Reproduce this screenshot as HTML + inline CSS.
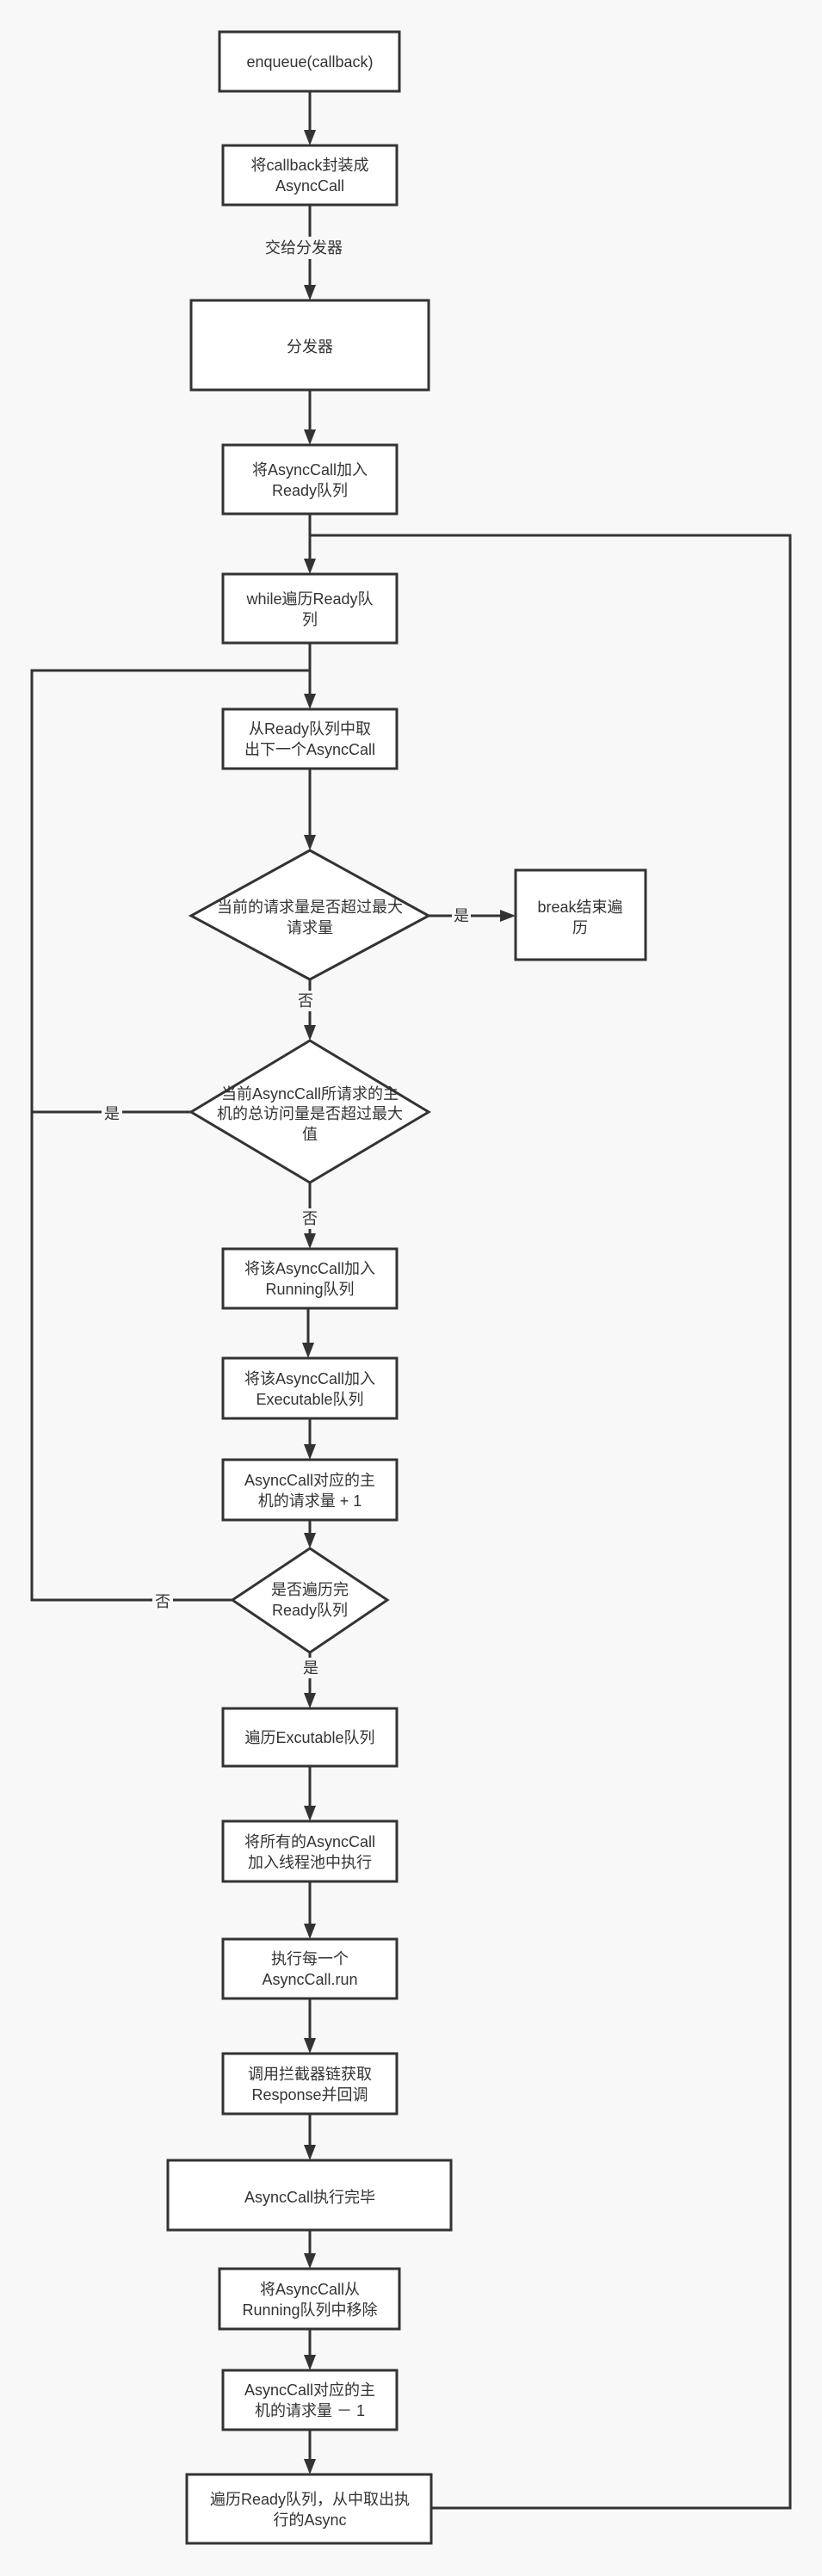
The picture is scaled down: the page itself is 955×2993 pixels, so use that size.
<!DOCTYPE html>
<html><head><meta charset="utf-8"><style>
html,body{margin:0;padding:0;background:#f8f8f8;}
svg{display:block}
text{font-family:"Liberation Sans","Noto Sans CJK SC",sans-serif;font-size:18px;fill:#333;text-anchor:middle;dominant-baseline:central}
.b{fill:#fff;stroke:#333;stroke-width:3}
.l{fill:none;stroke:#333;stroke-width:3}
.h{fill:#333}
.bg{fill:#f8f8f8}
</style></head><body>
<svg width="955" height="2993" viewBox="0 0 955 2993" xmlns="http://www.w3.org/2000/svg">
<defs><path id="ah" d="M-7,-18 L7,-18 L0,0 Z"/></defs>

<!-- connectors -->
<path class="l" d="M360,106 V153"/><use href="#ah" class="h" x="360" y="169"/>
<path class="l" d="M360,238 V333"/><use href="#ah" class="h" x="360" y="349"/>
<rect class="bg" x="300" y="275" width="106" height="26"/>
<text x="353" y="288">交给分发器</text>
<path class="l" d="M360,453 V501"/><use href="#ah" class="h" x="360" y="517"/>
<path class="l" d="M360,597 V651"/><use href="#ah" class="h" x="360" y="667"/>
<path class="l" d="M360,747 V808"/><use href="#ah" class="h" x="360" y="824"/>
<path class="l" d="M360,893 V972"/><use href="#ah" class="h" x="360" y="988"/>
<!-- right loop -->
<path class="l" d="M501,2914 H918 V622 H360"/>
<!-- left loop -->
<path class="l" d="M270,1859 H37 V779 H360"/>
<path class="l" d="M222,1292 H37"/>
<!-- d1 to break -->
<path class="l" d="M498,1064 H583"/><use href="#ah" class="h" x="599" y="1064" transform="rotate(-90 599 1064)"/>
<rect class="bg" x="525" y="1052" width="22" height="24"/><text x="536" y="1064">是</text>
<path class="l" d="M360,1138 V1193"/><use href="#ah" class="h" x="360" y="1209"/>
<rect class="bg" x="343" y="1151" width="24" height="24"/><text x="355" y="1163">否</text>
<rect class="bg" x="118" y="1280" width="24" height="24"/><text x="130" y="1294">是</text>
<path class="l" d="M360,1374 V1435"/><use href="#ah" class="h" x="360" y="1451"/>
<rect class="bg" x="348" y="1404" width="24" height="24"/><text x="360" y="1416">否</text>
<path class="l" d="M358,1520 V1562"/><use href="#ah" class="h" x="358" y="1578"/>
<path class="l" d="M360,1648 V1680"/><use href="#ah" class="h" x="360" y="1696"/>
<path class="l" d="M360,1766 V1783"/><use href="#ah" class="h" x="360" y="1799"/>
<rect class="bg" x="177" y="1847" width="24" height="24"/><text x="189" y="1861">否</text>
<path class="l" d="M360,1920 V1969"/><use href="#ah" class="h" x="360" y="1985"/>
<rect class="bg" x="349" y="1926" width="24" height="24"/><text x="361" y="1938">是</text>
<path class="l" d="M360,2052 V2100"/><use href="#ah" class="h" x="360" y="2116"/>
<path class="l" d="M360,2186 V2237"/><use href="#ah" class="h" x="360" y="2253"/>
<path class="l" d="M360,2322 V2370"/><use href="#ah" class="h" x="360" y="2386"/>
<path class="l" d="M360,2456 V2494"/><use href="#ah" class="h" x="360" y="2510"/>
<path class="l" d="M360,2591 V2620"/><use href="#ah" class="h" x="360" y="2636"/>
<path class="l" d="M360,2706 V2738"/><use href="#ah" class="h" x="360" y="2754"/>
<path class="l" d="M360,2823 V2859"/><use href="#ah" class="h" x="360" y="2875"/>

<!-- boxes -->
<rect class="b" x="255" y="37" width="209" height="69"/><text x="360" y="72">enqueue(callback)</text>
<rect class="b" x="259" y="169" width="202" height="69"/><text x="360" y="192">将callback封装成</text><text x="360" y="216">AsyncCall</text>
<rect class="b" x="222" y="349" width="276" height="104"/><text x="360" y="403">分发器</text>
<rect class="b" x="259" y="517" width="202" height="80"/><text x="360" y="546">将AsyncCall加入</text><text x="360" y="570">Ready队列</text>
<rect class="b" x="259" y="667" width="202" height="80"/><text x="360" y="696">while遍历Ready队</text><text x="360" y="720">列</text>
<rect class="b" x="259" y="824" width="202" height="69"/><text x="360" y="847">从Ready队列中取</text><text x="360" y="871">出下一个AsyncCall</text>
<polygon class="b" points="360,988 498,1064 360,1138 222,1064"/><text x="360" y="1054">当前的请求量是否超过最大</text><text x="360" y="1078">请求量</text>
<rect class="b" x="599" y="1011" width="151" height="104"/><text x="674" y="1054">break结束遍</text><text x="674" y="1078">历</text>
<polygon class="b" points="360,1209 498,1292 360,1374 222,1292"/><text x="360" y="1271">当前AsyncCall所请求的主</text><text x="360" y="1294">机的总访问量是否超过最大</text><text x="360" y="1318">值</text>
<rect class="b" x="259" y="1451" width="202" height="69"/><text x="360" y="1474">将该AsyncCall加入</text><text x="360" y="1498">Running队列</text>
<rect class="b" x="259" y="1578" width="202" height="70"/><text x="360" y="1602">将该AsyncCall加入</text><text x="360" y="1626">Executable队列</text>
<rect class="b" x="259" y="1696" width="202" height="70"/><text x="360" y="1720">AsyncCall对应的主</text><text x="360" y="1744">机的请求量 + 1</text>
<polygon class="b" points="360,1799 450,1859 360,1920 270,1859"/><text x="360" y="1847">是否遍历完</text><text x="360" y="1871">Ready队列</text>
<rect class="b" x="259" y="1985" width="202" height="67"/><text x="360" y="2019">遍历Excutable队列</text>
<rect class="b" x="259" y="2116" width="202" height="70"/><text x="360" y="2140">将所有的AsyncCall</text><text x="360" y="2164">加入线程池中执行</text>
<rect class="b" x="259" y="2253" width="202" height="69"/><text x="360" y="2276">执行每一个</text><text x="360" y="2300">AsyncCall.run</text>
<rect class="b" x="259" y="2386" width="202" height="70"/><text x="360" y="2410">调用拦截器链获取</text><text x="360" y="2434">Response并回调</text>
<rect class="b" x="195" y="2510" width="329" height="81"/><text x="360" y="2553">AsyncCall执行完毕</text>
<rect class="b" x="255" y="2636" width="209" height="70"/><text x="360" y="2660">将AsyncCall从</text><text x="360" y="2684">Running队列中移除</text>
<rect class="b" x="259" y="2754" width="202" height="69"/><text x="360" y="2777">AsyncCall对应的主</text><text x="360" y="2801">机的请求量 － 1</text>
<rect class="b" x="217" y="2875" width="284" height="80"/><text x="360" y="2904">遍历Ready队列，从中取出执</text><text x="360" y="2928">行的Async</text>
</svg>
</body></html>
